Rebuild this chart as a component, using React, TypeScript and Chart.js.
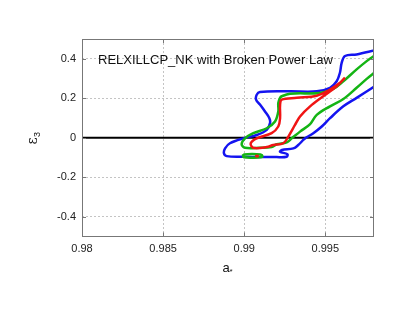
import React, { useEffect, useRef } from "react";
import { Chart, registerables } from "chart.js";

Chart.register(...registerables);

const xTickVals = [0.98, 0.985, 0.99, 0.995];
const xTickLabels = ["0.98", "0.985", "0.99", "0.995"];
const yTickVals = [-0.4, -0.2, 0, 0.2, 0.4];
const yTickLabels = ["-0.4", "-0.2", "0", "0.2", "0.4"];

const titleText = "RELXILLCP_NK with Broken Power Law";

// 99% (blue) contour
const blueContour = [
  [0.99806, 0.443], [0.99693, 0.422], [0.99621, 0.414], [0.99601, 0.38], [0.9959, 0.329],
  [0.9957, 0.286], [0.99529, 0.253], [0.99447, 0.235], [0.99282, 0.235], [0.99097, 0.232],
  [0.99077, 0.218], [0.99073, 0.193], [0.99097, 0.168], [0.99128, 0.133], [0.99155, 0.099],
  [0.99159, 0.074], [0.99139, 0.04], [0.99077, 0.014], [0.98994, -0.003], [0.98912, -0.028],
  [0.98882, -0.054], [0.98875, -0.079], [0.98892, -0.093], [0.98994, -0.096], [0.992, -0.098],
  [0.99262, -0.096], [0.99266, -0.083], [0.99221, -0.071], [0.99232, -0.062], [0.99303, -0.054],
  [0.99333, -0.037], [0.99364, -0.011], [0.99375, -0.003], [0.99426, 0.023], [0.99478, 0.057],
  [0.99529, 0.099], [0.99611, 0.159], [0.99693, 0.202], [0.99806, 0.261],
];

// 90% (green) contour
const greenContour = [
  [0.99806, 0.417], [0.99755, 0.388], [0.99693, 0.346], [0.99611, 0.286], [0.99549, 0.247],
  [0.99467, 0.227], [0.99282, 0.223], [0.99231, 0.21], [0.99221, 0.202], [0.9921, 0.176],
  [0.9921, 0.133], [0.9919, 0.082], [0.99139, 0.048], [0.99056, 0.023], [0.99005, -0.003],
  [0.98984, -0.033], [0.99005, -0.051], [0.99097, -0.051], [0.99169, -0.047], [0.992, -0.033],
  [0.99262, -0.023], [0.99293, -0.003], [0.99344, 0.031], [0.99406, 0.069], [0.99447, 0.116],
  [0.99529, 0.159], [0.99611, 0.196], [0.99693, 0.253], [0.99755, 0.298], [0.99806, 0.332],
];

// small green island
const greenIsland = [
  [0.98988, -0.092], [0.99, -0.085], [0.99048, -0.082], [0.991, -0.085], [0.99112, -0.092],
  [0.991, -0.099], [0.99048, -0.101], [0.99, -0.099], [0.98988, -0.092],
];

// 68% (red) contour
const redContour = [
  [0.99621, 0.304], [0.9959, 0.278], [0.99529, 0.244], [0.99447, 0.213], [0.99324, 0.202],
  [0.99231, 0.193], [0.99221, 0.167], [0.99221, 0.099], [0.9921, 0.057], [0.99169, 0.023],
  [0.99077, -0.003], [0.9904, -0.028], [0.99056, -0.051], [0.99139, -0.047], [0.99179, -0.037],
  [0.99241, -0.028], [0.99272, 0.006], [0.99313, 0.065], [0.99344, 0.108], [0.99406, 0.159],
  [0.99487, 0.21], [0.9957, 0.261], [0.99621, 0.304],
];

const redIsland = [
  [0.99068, -0.093], [0.99078, -0.09], [0.99086, -0.093], [0.99078, -0.096], [0.99068, -0.093],
];

const zeroLine = [
  [0.98, 0], [0.998, 0],
];

const BLUE = "#1414f0";
const GREEN = "#14b414";
const RED = "#f01414";

const toPts = (arr: number[][]) => arr.map(([x, y]) => ({ x, y }));

const decorPlugin = {
  id: "decor",
  afterDatasetsDraw(chart: any) {
    const { ctx, chartArea, scales } = chart;
    const { left, right, top, bottom } = chartArea;
    ctx.save();
    // frame
    ctx.strokeStyle = "#777";
    ctx.lineWidth = 1;
    ctx.strokeRect(left + 0.5, top + 0.5, right - left - 1, bottom - top - 0.5);
    // inward ticks
    ctx.beginPath();
    xTickVals.forEach((v) => {
      const px = Math.round(scales.x.getPixelForValue(v)) + 0.5;
      ctx.moveTo(px, bottom);
      ctx.lineTo(px, bottom - 4);
      ctx.moveTo(px, top);
      ctx.lineTo(px, top + 4);
    });
    yTickVals.forEach((v) => {
      const py = Math.round(scales.y.getPixelForValue(v)) + 0.5;
      ctx.moveTo(left, py);
      ctx.lineTo(left + 4, py);
      ctx.moveTo(right, py);
      ctx.lineTo(right - 4, py);
    });
    ctx.stroke();
    // title text inside plot
    ctx.fillStyle = "#111";
    ctx.font = "13px 'Liberation Sans', Arial, sans-serif";
    ctx.textBaseline = "middle";
    ctx.textAlign = "left";
    ctx.fillText(titleText, 98, 60);
    // x axis title a*
    ctx.font = "13px 'Liberation Sans', Arial, sans-serif";
    ctx.textAlign = "left";
    ctx.textBaseline = "alphabetic";
    const cx = (left + right) / 2;
    const aw = ctx.measureText("a").width;
    ctx.fillText("a", cx - aw / 2 - 2, 272);
    ctx.font = "8px 'Liberation Sans', Arial, sans-serif";
    ctx.fillText("*", cx + aw / 2 - 2, 274);
    // y axis title epsilon_3
    ctx.translate(37, (top + bottom) / 2);
    ctx.rotate(-Math.PI / 2);
    ctx.font = "14px 'DejaVu Serif', serif";
    const ew = ctx.measureText("ε").width;
    ctx.fillText("ε", -ew / 2 - 3, 0);
    ctx.font = "9px 'Liberation Sans', Arial, sans-serif";
    ctx.fillText("3", ew / 2 - 3, 3);
    ctx.restore();
  },
};

export default function App() {
  const ref = useRef<HTMLCanvasElement | null>(null);
  useEffect(() => {
    document.body.style.margin = "0";
    const canvas = ref.current!;
    const lineDs = (label: string, data: number[][], color: string, order: number, width = 2.5) => ({
      label,
      data: toPts(data),
      borderColor: color,
      backgroundColor: color,
      borderWidth: width,
      showLine: true,
      pointRadius: 0,
      tension: 0.35,
      fill: false,
      order,
    });
    const chart = new Chart(canvas, {
      type: "scatter",
      data: {
        datasets: [
          { ...lineDs("zero", zeroLine, "#000", 5, 2), tension: 0 },
          lineDs("99%", blueContour, BLUE, 4),
          lineDs("90%", greenContour, GREEN, 3),
          lineDs("90% island", greenIsland, GREEN, 3),
          lineDs("68%", redContour, RED, 1),
          lineDs("68% island", redIsland, RED, 1, 2),
        ] as any,
      },
      plugins: [decorPlugin],
      options: {
        responsive: false,
        animation: false,
        layout: { padding: { left: 0, top: 39, right: 33, bottom: 0 } },
        plugins: { legend: { display: false }, tooltip: { enabled: false }, title: { display: false } },
        scales: {
          x: {
            type: "linear",
            min: 0.98,
            max: 0.998,
            afterBuildTicks: (scale: any) => {
              scale.ticks = xTickVals.map((v) => ({ value: v }));
            },
            afterFit: (scale: any) => {
              scale.height = 78.5;
            },
            ticks: {
              autoSkip: false,
              maxRotation: 0,
              padding: 6,
              color: "#222",
              font: { size: 11, family: "'Liberation Sans', Arial, sans-serif" },
              callback: (_v: any, i: number) => xTickLabels[i],
            },
            grid: { color: "#c4c4c4", lineWidth: 1, drawTicks: false },
            border: { display: false, dash: [2, 2] },
          },
          y: {
            type: "linear",
            min: -0.5,
            max: 0.5,
            afterBuildTicks: (scale: any) => {
              scale.ticks = yTickVals.map((v) => ({ value: v }));
            },
            afterFit: (scale: any) => {
              scale.width = 82;
            },
            ticks: {
              autoSkip: false,
              padding: 6,
              color: "#222",
              font: { size: 11, family: "'Liberation Sans', Arial, sans-serif" },
              callback: (_v: any, i: number) => yTickLabels[i],
            },
            grid: { color: "#c4c4c4", lineWidth: 1, drawTicks: false },
            border: { display: false, dash: [2, 2] },
          },
        },
      } as any,
    });
    return () => chart.destroy();
  }, []);
  return (
    <div style={{ width: 407, height: 315, background: "#fff" }}>
      <canvas ref={ref} width={407} height={315} style={{ display: "block" }} />
    </div>
  );
}
